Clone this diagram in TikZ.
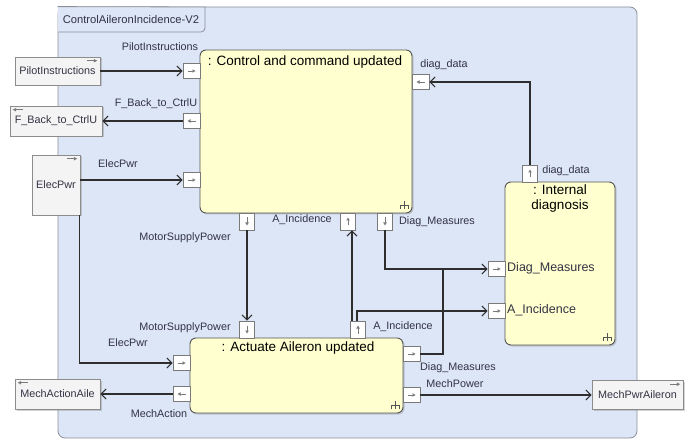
\documentclass[tikz,border=0pt]{standalone}
\usepackage{fontspec}
\setmainfont{Liberation Sans}
\usetikzlibrary{arrows.meta,shadows}
\definecolor{framebg}{HTML}{DCE6F6}
\definecolor{frameline}{HTML}{8A8F99}
\definecolor{blockfill}{HTML}{FFFFCF}
\definecolor{blockline}{HTML}{555555}
\definecolor{portline}{HTML}{7A7A7A}
\definecolor{extfill}{HTML}{F4F4F4}
\definecolor{extline}{HTML}{8C8C8C}
\definecolor{wirecol}{HTML}{2E2E2E}
\definecolor{labelcol}{HTML}{333344}
\begin{document}
\begin{tikzpicture}[x=1pt,y=-1pt,
  block/.style={draw=blockline, fill=blockfill, rounded corners=6pt, line width=0.9pt,
    drop shadow={opacity=0.35, shadow xshift=1.5pt, shadow yshift=-1.5pt}, inner sep=0},
  hport/.style={draw=portline, fill=white, line width=0.6pt, inner sep=0, minimum width=17pt, minimum height=15pt},
  vport/.style={draw=portline, fill=white, line width=0.6pt, inner sep=0, minimum width=15pt, minimum height=17pt},
  glyphline/.style={draw=portline, line width=0.6pt},
  gR/.style={path picture={
    \draw[glyphline, shift={(path picture bounding box.center)}] (-4,0) -- (2,0);
    \fill[portline, shift={(path picture bounding box.center)}] (4,0) -- (1,-1.8) -- (1,1.8) -- cycle;}},
  gL/.style={path picture={
    \draw[glyphline, shift={(path picture bounding box.center)}] (4,0) -- (-2,0);
    \fill[portline, shift={(path picture bounding box.center)}] (-4,0) -- (-1,-1.8) -- (-1,1.8) -- cycle;}},
  gD/.style={path picture={
    \draw[glyphline, shift={(path picture bounding box.center)}] (0,-4) -- (0,2);
    \fill[portline, shift={(path picture bounding box.center)}] (0,4) -- (-1.8,1) -- (1.8,1) -- cycle;}},
  gU/.style={path picture={
    \draw[glyphline, shift={(path picture bounding box.center)}] (0,4) -- (0,-2);
    \fill[portline, shift={(path picture bounding box.center)}] (0,-4) -- (-1.8,-1) -- (1.8,-1) -- cycle;}},
  ext/.style={draw=extline, fill=extfill, line width=0.6pt, inner sep=0, text=labelcol,
    font=\fontsize{10.8}{12}\selectfont,
    drop shadow={opacity=0.35, shadow xshift=1.5pt, shadow yshift=-1.5pt}},
  wire/.style={draw=wirecol, line width=1.3pt, -{Straight Barb[length=5pt,width=10pt,line width=1.1pt]}},
  plainwire/.style={draw=wirecol, line width=1.3pt},
  lbl/.style={font=\fontsize{10.8}{12}\selectfont, text=labelcol, inner sep=0},
  ilbl/.style={font=\fontsize{12.5}{14}\selectfont, text=labelcol, inner sep=0, anchor=west},
  title/.style={font=\fontsize{13.5}{15}\selectfont, text=black, inner sep=0, align=center},
  rake/.style={draw=blockline, line width=0.6pt}
]
\useasboundingbox (0,0) rectangle (689,441);
% frame
\node[draw=frameline, fill=framebg, rounded corners=7pt, line width=0.8pt,
  minimum width=579pt, minimum height=431pt, inner sep=0] (frame) at (347.5,222.5) {};
\draw[draw=frameline, fill=framebg, line width=0.8pt]
  (frame.north west) -- (205,7) [rounded corners=4pt] -- (205,32) -- (58,32);
\node[lbl, font=\fontsize{11.2}{12}\selectfont] (ftitle) at (131,19) {ControlAileronIncidence-V2};

% blocks
\node[block, minimum width=212pt, minimum height=163pt] (cc) at (306,131.5) {};
\node[block, minimum width=213pt, minimum height=75pt] (aa) at (296.5,375.5) {};
\node[block, minimum width=110pt, minimum height=163pt] (idg) at (560,263.5) {};
\node[title] (tcc) at (305,62) {: Control and command updated};
\node[title] (taa) at (298,348) {: Actuate Aileron updated};
\node[title] (tidg) at (560,199) {: Internal\\diagnosis};
% rake icons
\draw[rake] (404,209) -- (404,201) (400,209) -- (400,205) -- (408,205) -- (408,209);
\draw[rake] (395,409) -- (395,401) (391,409) -- (391,405) -- (399,405) -- (399,409);
\draw[rake] (607,341) -- (607,333) (603,341) -- (603,337) -- (611,337) -- (611,341);

% ports on control block
\node[hport, gR] (pCPI) at (191.5,71) {};
\node[hport, gL] (pCFB) at (191.5,121) {};
\node[hport, gR] (pCEP) at (191.5,180) {};
\node[hport, gL] (pCdd) at (420.5,82) {};
\node[vport, gD] (pCMS) at (247,221.5) {};
\node[vport, gU] (pCAI) at (348,221.5) {};
\node[vport, gD] (pCDM) at (385,221.5) {};
% ports on actuate block
\node[vport, gD] (pAMS) at (247,329.5) {};
\node[vport, gU] (pAAI) at (358,329.5) {};
\node[hport, gR] (pAEP) at (181.5,363) {};
\node[hport, gL] (pAMA) at (181.5,394) {};
\node[hport, gR] (pADM) at (411.5,354) {};
\node[hport, gR] (pAMP) at (411.5,395) {};
% ports on internal diagnosis
\node[vport, gU] (pIdd) at (530,173.5) {};
\node[hport, gR] (pIDM) at (496.5,269) {};
\node[hport, gR] (pIAI) at (496.5,311) {};

% external boxes
\node[ext, minimum width=85pt, minimum height=28pt] (ePI) at (57.5,71) {PilotInstructions};
\node[ext, minimum width=92pt, minimum height=30pt] (eFB) at (56,121) {F\_Back\_to\_CtrlU};
\node[ext, minimum width=48pt, minimum height=60pt] (eEP) at (56,185) {ElecPwr};
\node[ext, minimum width=85pt, minimum height=30pt] (eMA) at (57.5,394) {MechActionAile};
\node[ext, minimum width=91pt, minimum height=29pt] (eMP) at (637.5,395) {MechPwrAileron};
% direction glyphs of the external boxes
\foreach \n in {ePI,eEP,eMP} {
  \draw[glyphline] ([shift={(-13,4)}]\n.north east) -- ([shift={(-6,4)}]\n.north east);
  \fill[portline] ([shift={(-3,4)}]\n.north east) -- ([shift={(-6.5,2.2)}]\n.north east) -- ([shift={(-6.5,5.8)}]\n.north east) -- cycle;
}
\foreach \n in {eFB,eMA} {
  \draw[glyphline] ([shift={(13,4)}]\n.north west) -- ([shift={(6,4)}]\n.north west);
  \fill[portline] ([shift={(3,4)}]\n.north west) -- ([shift={(6.5,2.2)}]\n.north west) -- ([shift={(6.5,5.8)}]\n.north west) -- cycle;
}

% wires
\draw[wire] (ePI.east) -- (pCPI.west);
\draw[wire] (pCFB.west) -- (eFB.east);
\draw[wire] (eEP.east |- pCEP) -- (pCEP.west);
\draw[wire] ([xshift=-1pt]eEP.south east) |- (pAEP.west);
\draw[wire] (pIdd.north) |- (pCdd.east);
\draw[wire] (pCMS.south) -- (pAMS.north);
\draw[wire] ([xshift=-6pt]pAAI.north) -- ([xshift=-6pt]pAAI.north |- pCAI.south);
\draw[wire] ([xshift=-1pt]pAAI.north) |- (pIAI.west);
\draw[wire] (pCDM.south) |- (pIDM.west);
\coordinate (jDM) at (443,269);
\draw[plainwire] (pADM.east) -| (jDM);
\draw[wire] (pAMP.east) -- (eMP.west);
\draw[wire] (pAMA.west) -- (eMA.east);

% labels
\node[lbl] (lPI) at (160,47) {PilotInstructions};
\node[lbl] (lFB) at (156,104) {F\_Back\_to\_CtrlU};
\node[lbl] (lEP1) at (118,164) {ElecPwr};
\node[lbl] (lCdd) at (444,65) {diag\_data};
\node[lbl] (lIdd) at (566,171) {diag\_data};
\node[lbl] (lCAI) at (302,220) {A\_Incidence};
\node[lbl] (lCDM) at (437,222) {Diag\_Measures};
\node[lbl] (lMS1) at (185,238) {MotorSupplyPower};
\node[lbl] (lMS2) at (185,328) {MotorSupplyPower};
\node[lbl] (lEP2) at (128,343) {ElecPwr};
\node[lbl] (lMA) at (159,414) {MechAction};
\node[lbl] (lAAI) at (403,327) {A\_Incidence};
\node[lbl] (lADM) at (458,368) {Diag\_Measures};
\node[lbl] (lMP) at (455,384) {MechPower};
\node[ilbl] (lIDM) at (507,268) {Diag\_Measures};
\node[ilbl] (lIAI) at (507,310) {A\_Incidence};
\end{tikzpicture}
\end{document}
